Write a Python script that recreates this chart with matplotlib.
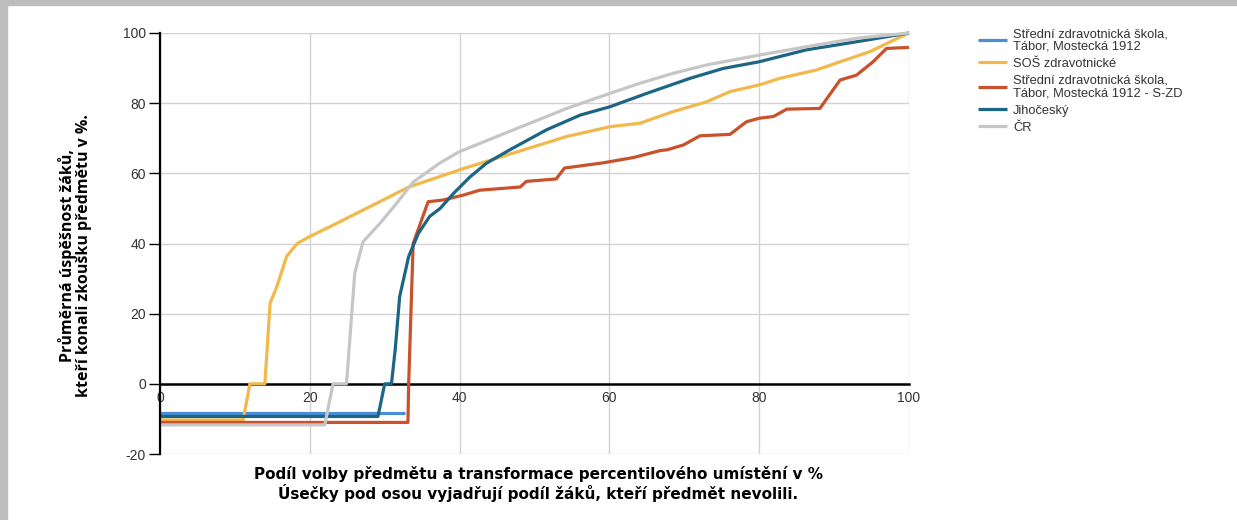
import matplotlib.pyplot as plt
from matplotlib.patches import Rectangle

# series (x = podíl volby %, y = úspěšnost %)
skola_x = [0, 32.7]
skola_y = [-8.2, -8.2]

sos_x = [0, 11.1, 12.0, 14.0, 14.7, 15.6, 16.9, 18.3, 20.0, 22.7, 25.4, 29.8, 33.1,
         40.0, 47.2, 54.3, 60.1, 64.1, 68.5, 73.0, 76.1, 80.0, 82.8, 87.7, 90.8,
         94.8, 97.5, 100]
sos_y = [-10.3, -10.3, 0, 0, 23, 27.7, 36.3, 40, 42, 44.8, 47.7, 52.4, 56,
         61, 65.8, 70.5, 73.3, 74.3, 77.6, 80.4, 83.3, 85.2, 87.1, 89.5, 91.8,
         94.7, 97.5, 100]

szd_x = [0, 33.1, 33.2, 33.8, 35.8, 37.8, 40.5, 42.7, 48.1, 48.9, 52.9, 54.0, 59.2,
         63.2, 66.8, 67.7, 69.9, 72.1, 76.1, 78.3, 80.0, 81.9, 83.7, 88.1, 90.8,
         93.0, 95.2, 97.0, 100]
szd_y = [-11, -11, 0, 40, 51.9, 52.4, 53.8, 55.2, 56.1, 57.7, 58.4, 61.5, 63,
         64.5, 66.5, 66.7, 68.1, 70.7, 71.1, 74.7, 75.7, 76.2, 78.3, 78.5, 86.6,
         88, 91.8, 95.6, 95.9]

jc_x = [0, 29.1, 30.0, 30.9, 31.4, 32.0, 33.2, 34.5, 36.0, 37.4, 39.2, 41.4, 43.6,
        46.7, 51.6, 56.1, 60.1, 65.0, 70.8, 75.2, 80.0, 86.3, 93.0, 100]
jc_y = [-9.3, -9.3, 0, 0, 9.7, 24.9, 36.3, 42.9, 47.7, 50.0, 54.3, 59.0, 62.9,
        66.7, 72.4, 76.6, 79.0, 82.8, 87.1, 89.9, 91.8, 95.2, 97.5, 100]

cr_x = [0, 22.0, 23.1, 24.9, 25.6, 26.0, 27.1, 29.4, 31.6, 33.8, 37.4, 40.0, 47.2,
        54.3, 60.1, 64.1, 68.5, 73.0, 80.0, 86.3, 93.0, 100]
cr_y = [-11.7, -11.7, 0, 0, 20, 31.5, 40.5, 45.8, 51.5, 57.5, 63, 66.2, 72.4,
        78.5, 82.8, 85.7, 88.5, 90.9, 93.7, 96.1, 98.5, 100]

labels = ['Střední zdravotnická škola,\nTábor, Mostecká 1912',
          'SOŠ zdravotnické',
          'Střední zdravotnická škola,\nTábor, Mostecká 1912 - S-ZD',
          'Jihočeský',
          'ČR']
colors = ['#4a8fd6', '#f2b84b', '#c9512b', '#1d6585', '#c6c6c6']
x_ticks = [0, 20, 40, 60, 80, 100]
y_ticks = [-20, 0, 20, 40, 60, 80, 100]

plt.rcParams['font.family'] = ['Liberation Sans', 'DejaVu Sans']
plt.rcParams['axes.unicode_minus'] = False

fig = plt.figure(figsize=(12.37, 5.2), dpi=100)
fig.patches.append(Rectangle((0, 0), 7 / 1237, 1, transform=fig.transFigure,
                             color='#bdbdbd', zorder=-1))
fig.patches.append(Rectangle((0, 1 - 5 / 520), 1, 5 / 520, transform=fig.transFigure,
                             color='#bdbdbd', zorder=-1))

ax = fig.add_axes([160 / 1237, 1 - 454 / 520, 749 / 1237, 421 / 520])

series = [(skola_x, skola_y), (sos_x, sos_y), (szd_x, szd_y), (jc_x, jc_y), (cr_x, cr_y)]
for (xs, ys), lab, col in zip(series, labels, colors):
    ax.plot(xs, ys, color=col, lw=2.3, label=lab, solid_joinstyle='round',
            solid_capstyle='butt', clip_on=False)

ax.set_xlim(0, 100)
ax.set_ylim(-20, 100)
ax.set_xticks(x_ticks)
ax.set_yticks(y_ticks)
ax.grid(True, color='#d2d2d2', lw=1)
ax.set_axisbelow(True)

ax.spines['top'].set_visible(False)
ax.spines['right'].set_visible(False)
ax.spines['bottom'].set_position(('data', 0))
ax.spines['bottom'].set_linewidth(1.8)
ax.spines['bottom'].set_zorder(1.5)
ax.spines['left'].set_linewidth(1.6)
ax.tick_params(axis='x', length=0, pad=5, labelsize=10, labelcolor='#333333')
ax.tick_params(axis='y', length=8, width=1, direction='out', pad=2,
               labelsize=10, labelcolor='#333333')

fig.text(75 / 1237, 1 - 256 / 520,
         'Průměrná úspěšnost žáků,\nkteří konali zkoušku předmětu v %.',
         rotation=90, ha='center', va='center', fontsize=11.5, fontweight='bold',
         family=['Open Sans', 'DejaVu Sans'], linespacing=0.95)
fig.text(538 / 1237, 1 - 484 / 520,
         'Podíl volby předmětu a transformace percentilového umístění v %\n'
         'Úsečky pod osou vyjadřují podíl žáků, kteří předmět nevolili.',
         ha='center', va='center', fontsize=11, fontweight='bold',
         family=['DejaVu Sans'], linespacing=1.15)

leg = ax.legend(loc='upper left', bbox_to_anchor=(973 / 1237, 1 - 23 / 520),
                bbox_transform=fig.transFigure, frameon=False, fontsize=9.3,
                handlelength=2.2, handletextpad=0.5, labelspacing=0.4,
                borderaxespad=0)
for t in leg.get_texts():
    t.set_color('#333333')
    t.set_linespacing(1.05)

fig.savefig('out.png', dpi=100)
